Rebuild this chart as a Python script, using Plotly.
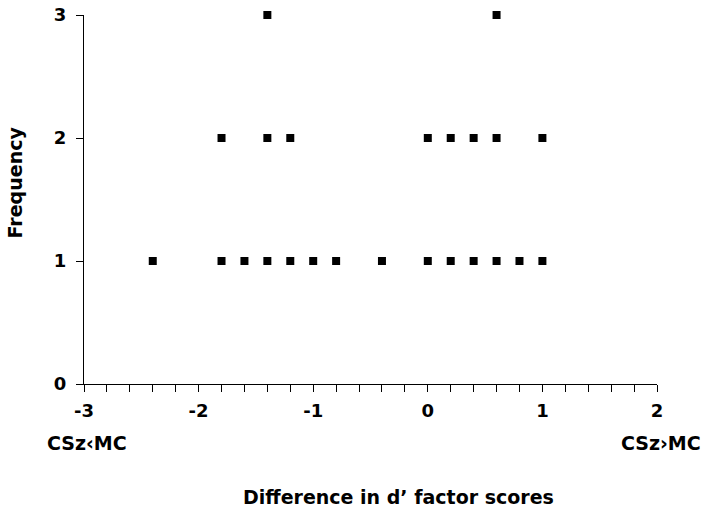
import plotly.graph_objects as go

# Difference in d' factor scores (x) and frequency (y)
x_values = [-2.4, -1.8, -1.6, -1.4, -1.2, -1.0, -0.8, -0.4, 0.0, 0.2, 0.4, 0.6, 0.8, 1.0,
            -1.8, -1.4, -1.2, 0.0, 0.2, 0.4, 0.6, 1.0,
            -1.4, 0.6]
frequency = [1, 1, 1, 1, 1, 1, 1, 1, 1, 1, 1, 1, 1, 1,
             2, 2, 2, 2, 2, 2, 2, 2,
             3, 3]
x_ticks = [-3, -2, -1, 0, 1, 2]
x_tick_labels = ["-3", "-2", "-1", "0", "1", "2"]
y_ticks = [0, 1, 2, 3]

FONT = "DejaVu Sans"
fig = go.Figure(go.Scatter(
    x=x_values, y=frequency, mode="markers",
    marker=dict(symbol="square", size=8, color="black"),
    cliponaxis=False, showlegend=False,
))

fig.update_layout(
    width=703, height=515,
    margin=dict(l=84, r=46, t=15, b=131),
    paper_bgcolor="white", plot_bgcolor="white",
    font=dict(family=FONT, size=18, color="black", weight="bold"),
    xaxis=dict(range=[-3, 2], tickvals=x_ticks, ticktext=x_tick_labels,
               ticks="outside", ticklen=7, automargin=False,
               tickwidth=1, tickcolor="black", showline=True, linecolor="black",
               linewidth=1, showgrid=False, zeroline=False, ticklabelstandoff=3,
               minor=dict(dtick=0.2, ticks="outside", ticklen=7, tickcolor="black",
                          tickwidth=1, showgrid=False),
               tickfont=dict(family=FONT, size=18, weight="bold")),
    yaxis=dict(range=[0, 3], tickvals=y_ticks, ticks="outside", ticklen=7,
               automargin=False,
               tickwidth=1, tickcolor="black", showline=True, linecolor="black",
               linewidth=1, showgrid=False, zeroline=False, ticklabelstandoff=6,
               tickfont=dict(family=FONT, size=18, weight="bold")),
    annotations=[
        dict(text="CSz‹MC", xref="paper", yref="paper", x=0.005, y=-0.16,
             xanchor="center", yanchor="middle", showarrow=False,
             font=dict(family=FONT, size=19, weight="bold")),
        dict(text="CSz›MC", xref="paper", yref="paper", x=1.007, y=-0.16,
             xanchor="center", yanchor="middle", showarrow=False,
             font=dict(family=FONT, size=19, weight="bold")),
        dict(text="Difference in d’ factor scores", xref="paper", yref="paper",
             x=0.548, y=-0.307, xanchor="center", yanchor="middle", showarrow=False,
             font=dict(family=FONT, size=19, weight="bold")),
        dict(text="Frequency", xref="paper", yref="paper", x=-0.12, y=0.547,
             xanchor="center", yanchor="middle", showarrow=False, textangle=-90,
             font=dict(family=FONT, size=19, weight="bold")),
    ],
)

fig.write_html("out.html")
